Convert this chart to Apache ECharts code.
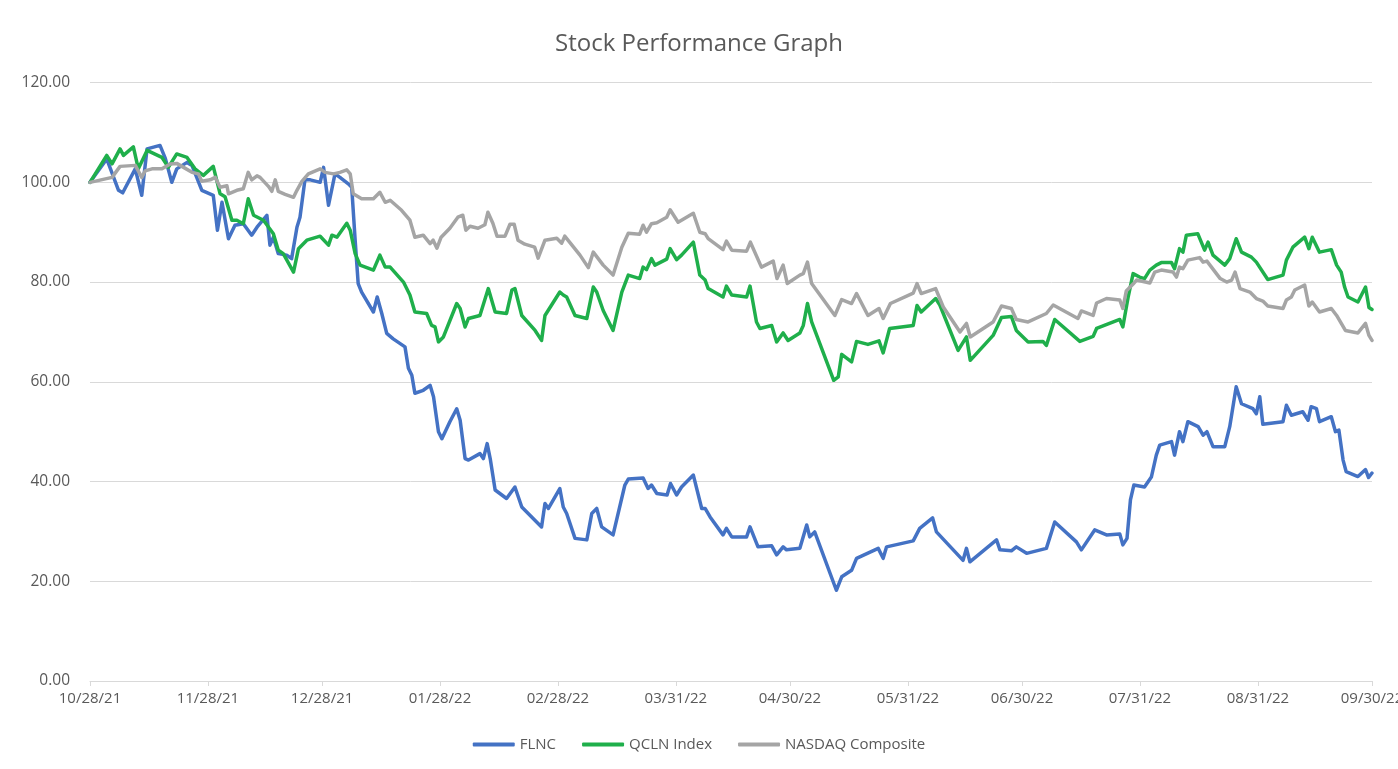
<!DOCTYPE html>
<html>
<head>
<meta charset="utf-8">
<script src="https://cdn.jsdelivr.net/npm/echarts@6/dist/echarts.min.js"></script>
<style>
  html, body { margin: 0; padding: 0; background: #fff; }
  #chart { width: 1398px; height: 769px; }
</style>
</head>
<body>
<div id="chart"></div>
<script>
// Days since 10/28/21 for the axis ticks / labels
const startDate = [2021, 9, 28];
const tickDays = [0, 31, 61, 92, 123, 154, 184, 215, 245, 276, 307, 337];
const yTicks = [0, 20, 40, 60, 80, 100, 120];
const seriesNames = ['FLNC', 'QCLN Index', 'NASDAQ Composite'];

// [day offset since 10/28/21, value]
const flnc = [
  [0,100],[4.4,104.7],[7.5,98.4],[8.6,97.9],[11.9,102.7],[13.6,97.4],[15.0,106.7],[18.4,107.4],
  [19.8,104.8],[21.5,100],[22.8,102.7],[25.5,104],[26.8,103.4],[29.4,98.4],[32.4,97.4],[33.5,90.4],
  [34.7,96],[36.4,88.7],[38.1,91.4],[40.3,91.7],[42.5,89.4],[43.9,91],[46.5,93.4],[47.3,87.4],
  [48.2,89],[49.5,85.7],[51.7,85.4],[53.0,84.7],[54.4,91],[55.2,93],[56.5,100.5],[57.9,100.5],
  [60.5,100],[61.4,103],[62.7,95.4],[64.4,101.7],[65.7,101],[67.9,99.7],[68.8,99],[69.7,88.4],
  [70.5,79.7],[71.4,78],[74.5,74],[75.5,77],[76.7,73.7],[78.0,69.7],[79.7,68.6],[82.8,67],
  [83.7,62.7],[84.6,61.3],[85.4,57.7],[87.6,58.3],[89.4,59.3],[90.3,57],[91.6,50],[92.5,48.6],
  [94.6,52],[96.4,54.6],[97.3,52.3],[98.6,44.6],[99.5,44.3],[102.5,45.6],[103.4,44.6],[104.4,47.6],
  [105.2,44.6],[106.5,38.3],[109.5,36.6],[111.7,38.9],[113.5,34.9],[118.7,30.9],[119.6,35.6],[120.5,34.6],
  [123.5,38.6],[124.4,34.9],[125.3,33.6],[127.5,28.6],[130.6,28.3],[131.9,33.6],[133.2,34.6],[134.5,30.9],
  [137.5,29.3],[140.6,39.3],[141.5,40.5],[145.4,40.7],[146.7,38.6],[147.6,39.3],[149.0,37.6],[151.7,37.3],
  [152.6,39.6],[154.2,37.3],[155.5,38.9],[158.6,41.3],[160.8,34.6],[161.7,34.6],[163.0,32.9],[166.4,29.3],
  [167.3,30.6],[168.7,28.9],[172.6,28.9],[173.5,30.9],[175.6,26.9],[179.2,27.1],[180.5,25.3],[182.2,26.9],
  [183.1,26.3],[186.6,26.6],[188.4,31.3],[189.2,28.9],[190.5,29.9],[196.2,18.2],[197.6,20.9],[200.2,22.2],
  [201.5,24.6],[207.2,26.6],[208.5,24.6],[209.4,26.9],[216.4,28.1],[218.1,30.6],[221.5,32.7],[222.5,29.9],
  [229.5,24.2],[230.4,26.6],[231.3,23.9],[238.3,28.3],[239.2,26.3],[242.2,26.1],[243.5,26.9],[246.2,25.6],
  [251.4,26.6],[253.6,31.9],[259.3,27.9],[260.6,26.3],[264.1,30.3],[267.2,29.3],[270.7,29.5],[271.5,27.3],
  [272.6,28.6],[273.5,36.3],[274.4,39.3],[277.2,38.9],[279.0,40.9],[280.3,45.3],[281.2,47.3],[284.3,48],
  [285.1,45.3],[286.4,50],[287.3,48],[288.6,52],[291.3,51],[292.6,49.3],[293.6,50],[295.2,47],
  [298.3,47],[299.6,51],[301.3,59],[302.7,55.6],[305.7,54.6],[306.6,53.6],[307.5,57],[308.3,51.5],
  [313.6,52],[314.5,55.3],[315.8,53.3],[318.8,54],[320.2,52.3],[321.0,55],[322.4,54.6],[323.2,52],
  [326.3,53],[327.4,50],[328.3,50.3],[329.4,44.3],[330.2,42],[333.3,41],[335.3,42.4],[336.1,40.8],
  [337,41.7]
];

const qcln = [
  [0,100],[4.4,105.4],[5.8,103.7],[7.9,106.7],[8.8,105.4],[11.4,107.1],[12.7,102.7],[15.0,106.4],
  [18.9,105],[20.6,103],[22.8,105.7],[25.5,105],[27.6,102.7],[29.8,101.4],[32.4,103.2],[34.2,97.7],
  [35.5,97.1],[37.3,92.4],[38.6,92.4],[40.3,91.7],[41.6,96.7],[43.0,93.4],[45.6,92.4],[48.2,89.7],
  [49.5,86.4],[50.8,85.7],[53.5,82],[54.8,86.7],[57.0,88.4],[60.5,89.2],[62.7,87.4],[63.6,89.4],
  [64.9,89],[67.5,91.8],[68.4,90.4],[69.7,85.7],[71.0,83.4],[74.5,82.4],[76.2,85.4],[77.6,83],
  [78.9,83],[82.4,80],[84.1,77.4],[85.4,74],[88.5,73.7],[89.8,71.3],[90.7,71],[91.6,68],
  [92.9,69],[96.4,75.7],[97.3,74.7],[98.6,71],[99.5,72.7],[102.5,73.3],[104.7,78.7],[106.5,74],
  [109.5,73.7],[110.9,78.4],[111.7,78.7],[113.5,73.3],[117.0,70.3],[118.7,68.3],[119.6,73.3],[123.5,78],
  [124.4,77.4],[125.3,77],[127.5,73.3],[130.6,72.7],[132.3,79],[133.2,78],[134.9,74.3],[137.5,70.3],
  [139.8,78],[141.5,81.4],[144.5,80.7],[145.4,83],[146.3,82.5],[147.6,84.7],[148.5,83.4],[151.6,84.6],
  [152.5,86.7],[154.2,84.5],[155.5,85.4],[158.6,88],[160.3,81.4],[161.7,80.4],[162.5,78.7],[166.4,77],
  [167.3,79.2],[168.7,77.4],[172.6,77],[173.5,79.2],[175.2,72],[176.1,70.7],[179.2,71.3],[180.5,68],
  [182.2,69.8],[183.5,68.3],[186.6,69.8],[187.5,71.3],[188.6,75.7],[189.7,72],[195.5,60.3],[196.7,61],
  [197.6,65.5],[200.2,64],[201.5,68.1],[204.5,67.5],[207.4,68.2],[208.5,65.8],[210.2,70.7],[216.4,71.3],
  [217.4,75.3],[218.5,74],[222.3,76.7],[223.4,75.4],[228.2,66.3],[230.4,69],[231.4,64.3],[237.4,69.3],
  [239.6,72.9],[242.2,73.1],[243.5,70.3],[246.6,68],[250.5,68.1],[251.4,67.3],[253.6,72.5],[260.2,68.1],
  [263.7,69.1],[264.6,70.7],[270.7,72.5],[271.5,71],[272.9,77],[274.2,81.7],[275.9,81],[277.2,80.7],
  [278.6,82.4],[280.3,83.4],[281.6,83.9],[284.3,83.9],[285.1,82.7],[286.4,86.7],[287.3,86],[288.2,89.4],
  [291.2,89.7],[293.0,86.4],[293.9,88],[295.2,85.4],[298.3,83.4],[299.6,84.7],[301.3,88.7],[302.7,86],
  [305.3,85],[306.6,84],[309.6,80.5],[313.6,81.4],[314.5,84.4],[316.2,87],[319.3,89],[320.4,86.7],
  [321.3,89],[323.2,86],[326.3,86.5],[327.7,83.4],[328.9,82],[329.8,79],[330.7,77],[333.3,76],
  [335.3,79],[336.2,74.9],[337,74.5]
];

const nasdaq = [
  [0,100],[5.8,101],[7.9,103.2],[11.9,103.4],[13.6,101],[14.5,102.3],[16.3,102.7],[18.9,102.7],
  [21.1,103.7],[22.8,103.8],[24.6,103],[26.8,102],[28.5,101.7],[29.4,100.2],[31.6,100.5],[32.9,101],
  [34.2,99],[36.0,99.3],[36.4,97.7],[38.6,98.4],[40.3,98.7],[41.6,102],[42.5,100.5],[43.9,101.3],
  [44.7,101],[46.9,99.2],[47.8,98.2],[48.7,100.5],[49.5,98.2],[51.3,97.6],[53.5,97],[54.4,98.4],
  [55.7,100.2],[57.4,101.7],[60.5,102.7],[61.8,102],[64.0,101.7],[65.7,102],[67.5,102.5],[68.4,101.7],
  [69.2,97.7],[71.4,96.7],[74.5,96.7],[76.2,98],[77.6,96],[78.9,96.4],[81.9,94.4],[84.1,92.4],
  [85.4,89],[87.6,89.4],[89.4,87.7],[90.2,88.4],[91.2,86.8],[92.3,89],[94.6,90.8],[96.7,93],
  [98.0,93.4],[98.8,90.4],[99.9,91.2],[102.0,90.8],[103.8,91.5],[104.6,94],[105.9,91.8],[107.0,89.2],
  [109.1,89.2],[110.4,91.6],[111.5,91.6],[112.5,88.4],[114.3,87.6],[116.9,87],[117.8,84.8],[119.6,88.4],
  [122.7,88.8],[124.0,87.8],[124.8,89.2],[128.8,85.4],[131.0,82.9],[132.3,86],[134.9,83.4],[137.5,81.4],
  [139.8,87],[141.5,89.8],[144.5,89.6],[145.4,91.4],[146.3,90],[147.6,91.7],[149.0,91.9],[151.6,93],
  [152.5,94.5],[154.6,92],[158.6,93.8],[160.3,90],[161.7,89.7],[162.5,88.7],[166.4,86.5],[167.3,88.2],
  [168.7,86.4],[172.6,86.2],[173.6,88],[176.5,83],[179.6,84.2],[180.6,80.7],[182.2,83.4],[183.3,79.7],
  [186.6,81.4],[187.5,81.7],[188.6,84],[189.7,79.7],[195.8,73.3],[197.6,76.5],[200.2,75.7],[201.5,77.7],
  [204.5,73.3],[207.4,74.7],[208.5,72.7],[210.4,75.7],[216.4,77.8],[217.4,79.7],[218.5,77.7],[222.3,78.7],
  [224.3,75],[228.7,70],[230.4,71.7],[231.4,69],[237.4,72],[239.6,75.2],[242.2,74.7],[243.5,72.5],
  [246.6,72],[251.4,73.7],[253.2,75.4],[259.7,72.7],[260.6,74.2],[263.7,73.3],[264.6,75.8],[267.2,76.7],
  [270.7,76.4],[271.5,74.7],[272.4,78.2],[274.2,79.6],[275.1,80.4],[278.6,79.8],[279.9,82],[281.6,82.4],
  [284.7,82],[285.6,81],[286.4,83],[287.3,82.7],[288.6,84.4],[291.7,84.9],[292.6,84],[293.6,84.2],
  [297.1,80.7],[298.8,80],[300.1,80.4],[301.0,82],[302.3,78.7],[304.9,78],[306.6,76.7],[308.3,76.2],
  [309.6,75.2],[313.6,74.7],[314.5,76.4],[315.8,77],[316.7,78.4],[319.3,79.4],[320.4,75.2],[321.3,76],
  [323.2,74],[326.3,74.7],[327.7,73.3],[330.0,70.3],[333.3,69.8],[335.3,71.7],[336.2,69.3],[337,68.3]
];

const colors = ['#4472C4', '#1FAF4B', '#A5A5A5'];
const FONT = 'Open Sans';

function pad(n) { return (n < 10 ? '0' : '') + n; }
function dayLabel(d) {
  const dt = new Date(startDate[0], startDate[1], startDate[2] + Math.round(d));
  return pad(dt.getMonth() + 1) + '/' + pad(dt.getDate()) + '/' + pad(dt.getFullYear() % 100);
}

const chart = echarts.init(document.getElementById('chart'), null, { renderer: 'canvas' });
const data = [flnc, qcln, nasdaq];

chart.setOption({
  animation: false,
  backgroundColor: '#ffffff',
  title: {
    text: 'Stock Performance Graph',
    left: 'center',
    top: 27,
    textStyle: { fontFamily: FONT, fontSize: 24, fontWeight: 'normal', color: '#595959' }
  },
  legend: {
    bottom: 12,
    left: 'center',
    icon: 'roundRect',
    itemWidth: 42,
    itemHeight: 4,
    itemGap: 26,
    textStyle: { fontFamily: FONT, fontSize: 15, color: '#595959' },
    data: seriesNames
  },
  grid: { left: 90, right: 26, top: 82.6, bottom: 88, outerBoundsMode: 'none', containLabel: false },
  xAxis: {
    type: 'value',
    min: 0,
    max: 337,
    splitLine: { show: false },
    axisLine: { show: true, lineStyle: { color: '#d9d9d9', width: 1 } },
    axisTick: { show: true, customValues: tickDays, length: 5, lineStyle: { color: '#d9d9d9' } },
    axisLabel: {
      customValues: tickDays,
      formatter: v => dayLabel(v),
      fontFamily: FONT, fontSize: 15, color: '#595959', margin: 10,
      showMinLabel: true, showMaxLabel: true, hideOverlap: false
    }
  },
  yAxis: {
    type: 'value',
    min: yTicks[0],
    max: yTicks[yTicks.length - 1],
    interval: 20,
    axisLine: { show: false },
    axisTick: { show: false },
    splitLine: { lineStyle: { color: '#d9d9d9', width: 1 } },
    axisLabel: {
      formatter: v => v.toFixed(2),
      fontFamily: FONT, fontSize: 15.5, color: '#595959', margin: 20
    }
  },
  series: seriesNames.map((name, i) => ({
    name: name,
    type: 'line',
    data: data[i],
    showSymbol: false,
    symbol: 'none',
    color: colors[i],
    lineStyle: { width: 3.5, color: colors[i], cap: 'round', join: 'round' },
    z: 2 + i
  }))
});
</script>
</body>
</html>
